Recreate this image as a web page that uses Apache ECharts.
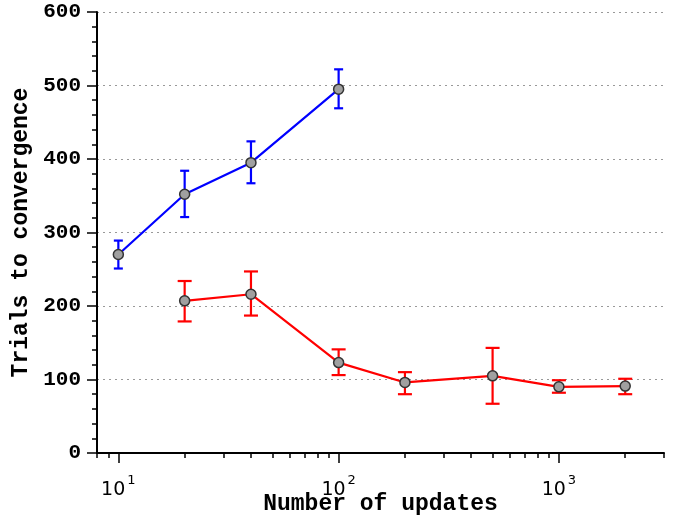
<!DOCTYPE html>
<html>
<head>
    <meta charset="utf-8" />
    <title>Trials to convergence</title>
    <script type="text/javascript" src="https://cdn.jsdelivr.net/npm/echarts@6/dist/echarts.min.js"></script>
    <style>
        html, body { margin: 0; padding: 0; background: #fff; }
        #container { width: 678px; height: 518px; }
    </style>
</head>
<body>
<div id="container"></div>
<script type="text/javascript">
    // blue run
    var updatesA = [10, 20, 40, 100];
    var meanA = [270, 352, 395, 495];
    var lowA = [251, 321, 367, 469];
    var highA = [289, 384, 424, 522];
    // red run
    var updatesB = [20, 40, 100, 200, 500, 1000, 2000];
    var meanB = [207, 216, 123, 96, 105, 90, 91];
    var lowB = [179, 187, 106, 80, 67, 82, 80];
    var highB = [234, 247, 141, 110, 143, 99, 101];

    var xMin = 8, xMax = 3000;
    var majorTicks = [10, 100, 1000];
    var minorTicks = [8, 9, 20, 30, 40, 50, 60, 70, 80, 90, 200, 300, 400, 500, 600, 700, 800, 900, 2000, 3000];

    var lg = function (v) { return Math.log10(v); };

    function points(xs, ys) {
        return xs.map(function (x, i) { return [lg(x), ys[i]]; });
    }
    function bars(xs, lo, hi) {
        return xs.map(function (x, i) { return [lg(x), lo[i], hi[i]]; });
    }

    function errorBar(cap, color) {
        return function (params, api) {
            var x = api.value(0);
            var lo = api.coord([x, api.value(1)]);
            var hi = api.coord([x, api.value(2)]);
            var st = { stroke: color, lineWidth: 2.2 };
            return {
                type: 'group',
                children: [
                    { type: 'line', shape: { x1: lo[0], y1: lo[1], x2: hi[0], y2: hi[1] }, style: st },
                    { type: 'line', shape: { x1: hi[0] - cap, y1: hi[1], x2: hi[0] + cap, y2: hi[1] }, style: st },
                    { type: 'line', shape: { x1: lo[0] - cap, y1: lo[1], x2: lo[0] + cap, y2: lo[1] }, style: st }
                ]
            };
        };
    }

    var markerStyle = { color: '#a0a0a0', borderColor: '#333', borderWidth: 1.5 };

    var myChart = echarts.init(document.getElementById('container'));
    var option = {
        animation: false,
        grid: { left: 97, right: 14, top: 12, bottom: 65, outerBoundsMode: 'none', containLabel: false },
        xAxis: [
            {
                type: 'value',
                min: lg(xMin),
                max: lg(xMax),
                name: 'Number of updates',
                nameLocation: 'middle',
                nameGap: 40,
                nameMoveOverlap: false,
                nameTextStyle: { fontFamily: 'Liberation Mono', fontWeight: 'bold', fontSize: 23, color: '#000' },
                axisLine: { lineStyle: { color: '#000', width: 2 } },
                axisTick: { show: true, customValues: majorTicks.map(lg), length: 10, lineStyle: { color: '#000', width: 1.5 } },
                axisLabel: {
                    customValues: majorTicks.map(lg),
                    margin: 21,
                    formatter: function (v) { return '{b|10}{s|' + Math.round(v) + '}'; },
                    rich: {
                        b: { fontFamily: 'DejaVu Sans', fontSize: 19, color: '#000' },
                        s: { fontFamily: 'DejaVu Sans', fontSize: 13, color: '#000', padding: [0, 0, 20, 2] }
                    }
                },
                splitLine: { show: false }
            },
            {
                type: 'value',
                min: lg(xMin),
                max: lg(xMax),
                position: 'bottom',
                axisLine: { show: false },
                axisTick: { show: true, customValues: minorTicks.map(lg), length: 5, lineStyle: { color: '#000', width: 1.5 } },
                axisLabel: { show: false },
                splitLine: { show: false }
            }
        ],
        yAxis: {
            type: 'value',
            min: 0,
            max: 600,
            interval: 100,
            name: 'Trials to convergence',
            nameLocation: 'middle',
            nameGap: 64,
            nameTextStyle: { fontFamily: 'Liberation Mono', fontWeight: 'bold', fontSize: 23, color: '#000' },
            axisLine: { show: true, lineStyle: { color: '#000', width: 2 } },
            axisTick: { show: true, length: 10, lineStyle: { color: '#000', width: 1.5 } },
            minorTick: { show: true, splitNumber: 5, length: 5, lineStyle: { color: '#000', width: 1.5 } },
            axisLabel: { margin: 16, fontFamily: 'Liberation Mono', fontWeight: 'bold', fontSize: 21, color: '#000' },
            splitLine: { show: true, lineStyle: { type: [2, 4], color: '#999', width: 1 } }
        },
        series: [
            {
                type: 'custom',
                renderItem: errorBar(4.5, '#0000ff'),
                encode: { x: 0, y: [1, 2] },
                data: bars(updatesA, lowA, highA)
            },
            {
                type: 'custom',
                renderItem: errorBar(7, '#ff0000'),
                encode: { x: 0, y: [1, 2] },
                data: bars(updatesB, lowB, highB)
            },
            {
                type: 'line',
                data: points(updatesA, meanA),
                symbol: 'circle',
                symbolSize: 10,
                lineStyle: { color: '#0000ff', width: 2.2 },
                itemStyle: markerStyle
            },
            {
                type: 'line',
                data: points(updatesB, meanB),
                symbol: 'circle',
                symbolSize: 10,
                lineStyle: { color: '#ff0000', width: 2.2 },
                itemStyle: markerStyle
            }
        ]
    };
    myChart.setOption(option);
</script>
</body>
</html>
